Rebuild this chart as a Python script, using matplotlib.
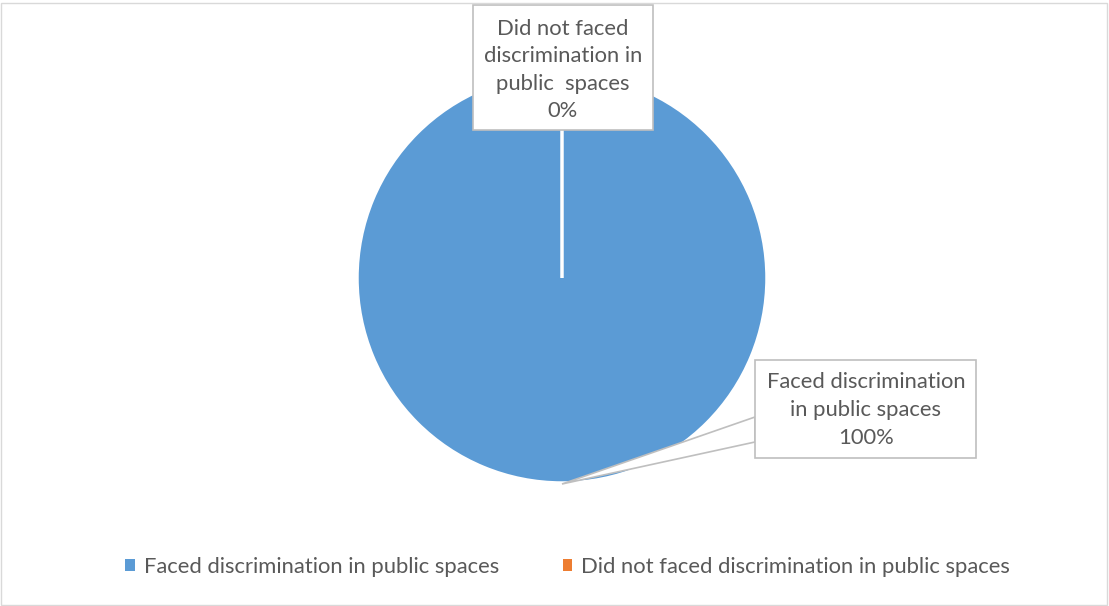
import matplotlib.pyplot as plt
from matplotlib.patches import Rectangle, Polygon, Patch

plt.rcParams['font.family'] = ['Lato', 'DejaVu Sans']

categories = ['Faced discrimination in public spaces',
              'Did not faced discrimination in public spaces']
label_text = ['Faced discrimination\nin public spaces',
              'Did not faced\ndiscrimination in\npublic  spaces']
values = [100, 0]
colors = ['#5B9BD5', '#ED7D31']
text_color = '#595959'
box_edge = '#BFBFBF'

W, H = 1109, 606
fig = plt.figure(figsize=(W / 100, H / 100), dpi=100)
ax = fig.add_axes([0, 0, 1, 1])
ax.set_xlim(0, W)
ax.set_ylim(0, H)
ax.set_aspect('equal')
ax.axis('off')

wedges, _ = ax.pie(values, colors=colors, startangle=90, counterclock=False,
                   center=(562, H - 278), radius=205,
                   wedgeprops=dict(edgecolor='white', linewidth=2.5))
ax.set_xlim(0, W)
ax.set_ylim(0, H)

total = sum(values)
pcts = [f"{v / total * 100:.0f}%" for v in values]

# callout for the 0% slice, at the top
ax.add_patch(Rectangle((473, H - 130), 180, 125, facecolor='white',
                       edgecolor=box_edge, linewidth=1.2, zorder=3))
ax.text(563, H - 70, label_text[1] + '\n' + pcts[1], ha='center', va='center',
        fontsize=15.8, color=text_color, linespacing=1.47, zorder=4)

# callout for the 100% slice, lower right, with its leader
ax.add_patch(Polygon([(562, H - 484), (755, H - 417), (755, H - 442)],
                     closed=True, facecolor='white', edgecolor=box_edge,
                     linewidth=1.2, zorder=2))
ax.add_patch(Rectangle((755, H - 458), 221, 98, facecolor='white',
                       edgecolor=box_edge, linewidth=1.2, zorder=3))
ax.text(866, H - 410, label_text[0] + '\n' + pcts[0], ha='center', va='center',
        fontsize=15.8, color=text_color, linespacing=1.47, zorder=4)

# plain square swatches for the legend (the wedges carry a white edge)
handles = [Patch(facecolor=w.get_facecolor(), edgecolor='none') for w in wedges]
leg = ax.legend(handles, categories, loc='center', ncol=2, frameon=False,
                fontsize=15.8, handlelength=0.42, handleheight=0.42,
                handletextpad=0.42, columnspacing=2.9)
for t in leg.get_texts():
    t.set_color(text_color)
leg.set_bbox_to_anchor((W * 0.512, H - 567), transform=ax.transData)

fig.add_artist(Rectangle((0.001, 0.002), 0.997, 0.993, transform=fig.transFigure,
                         fill=False, edgecolor='#D9D9D9', linewidth=1))

fig.savefig('out.png', dpi=100)
